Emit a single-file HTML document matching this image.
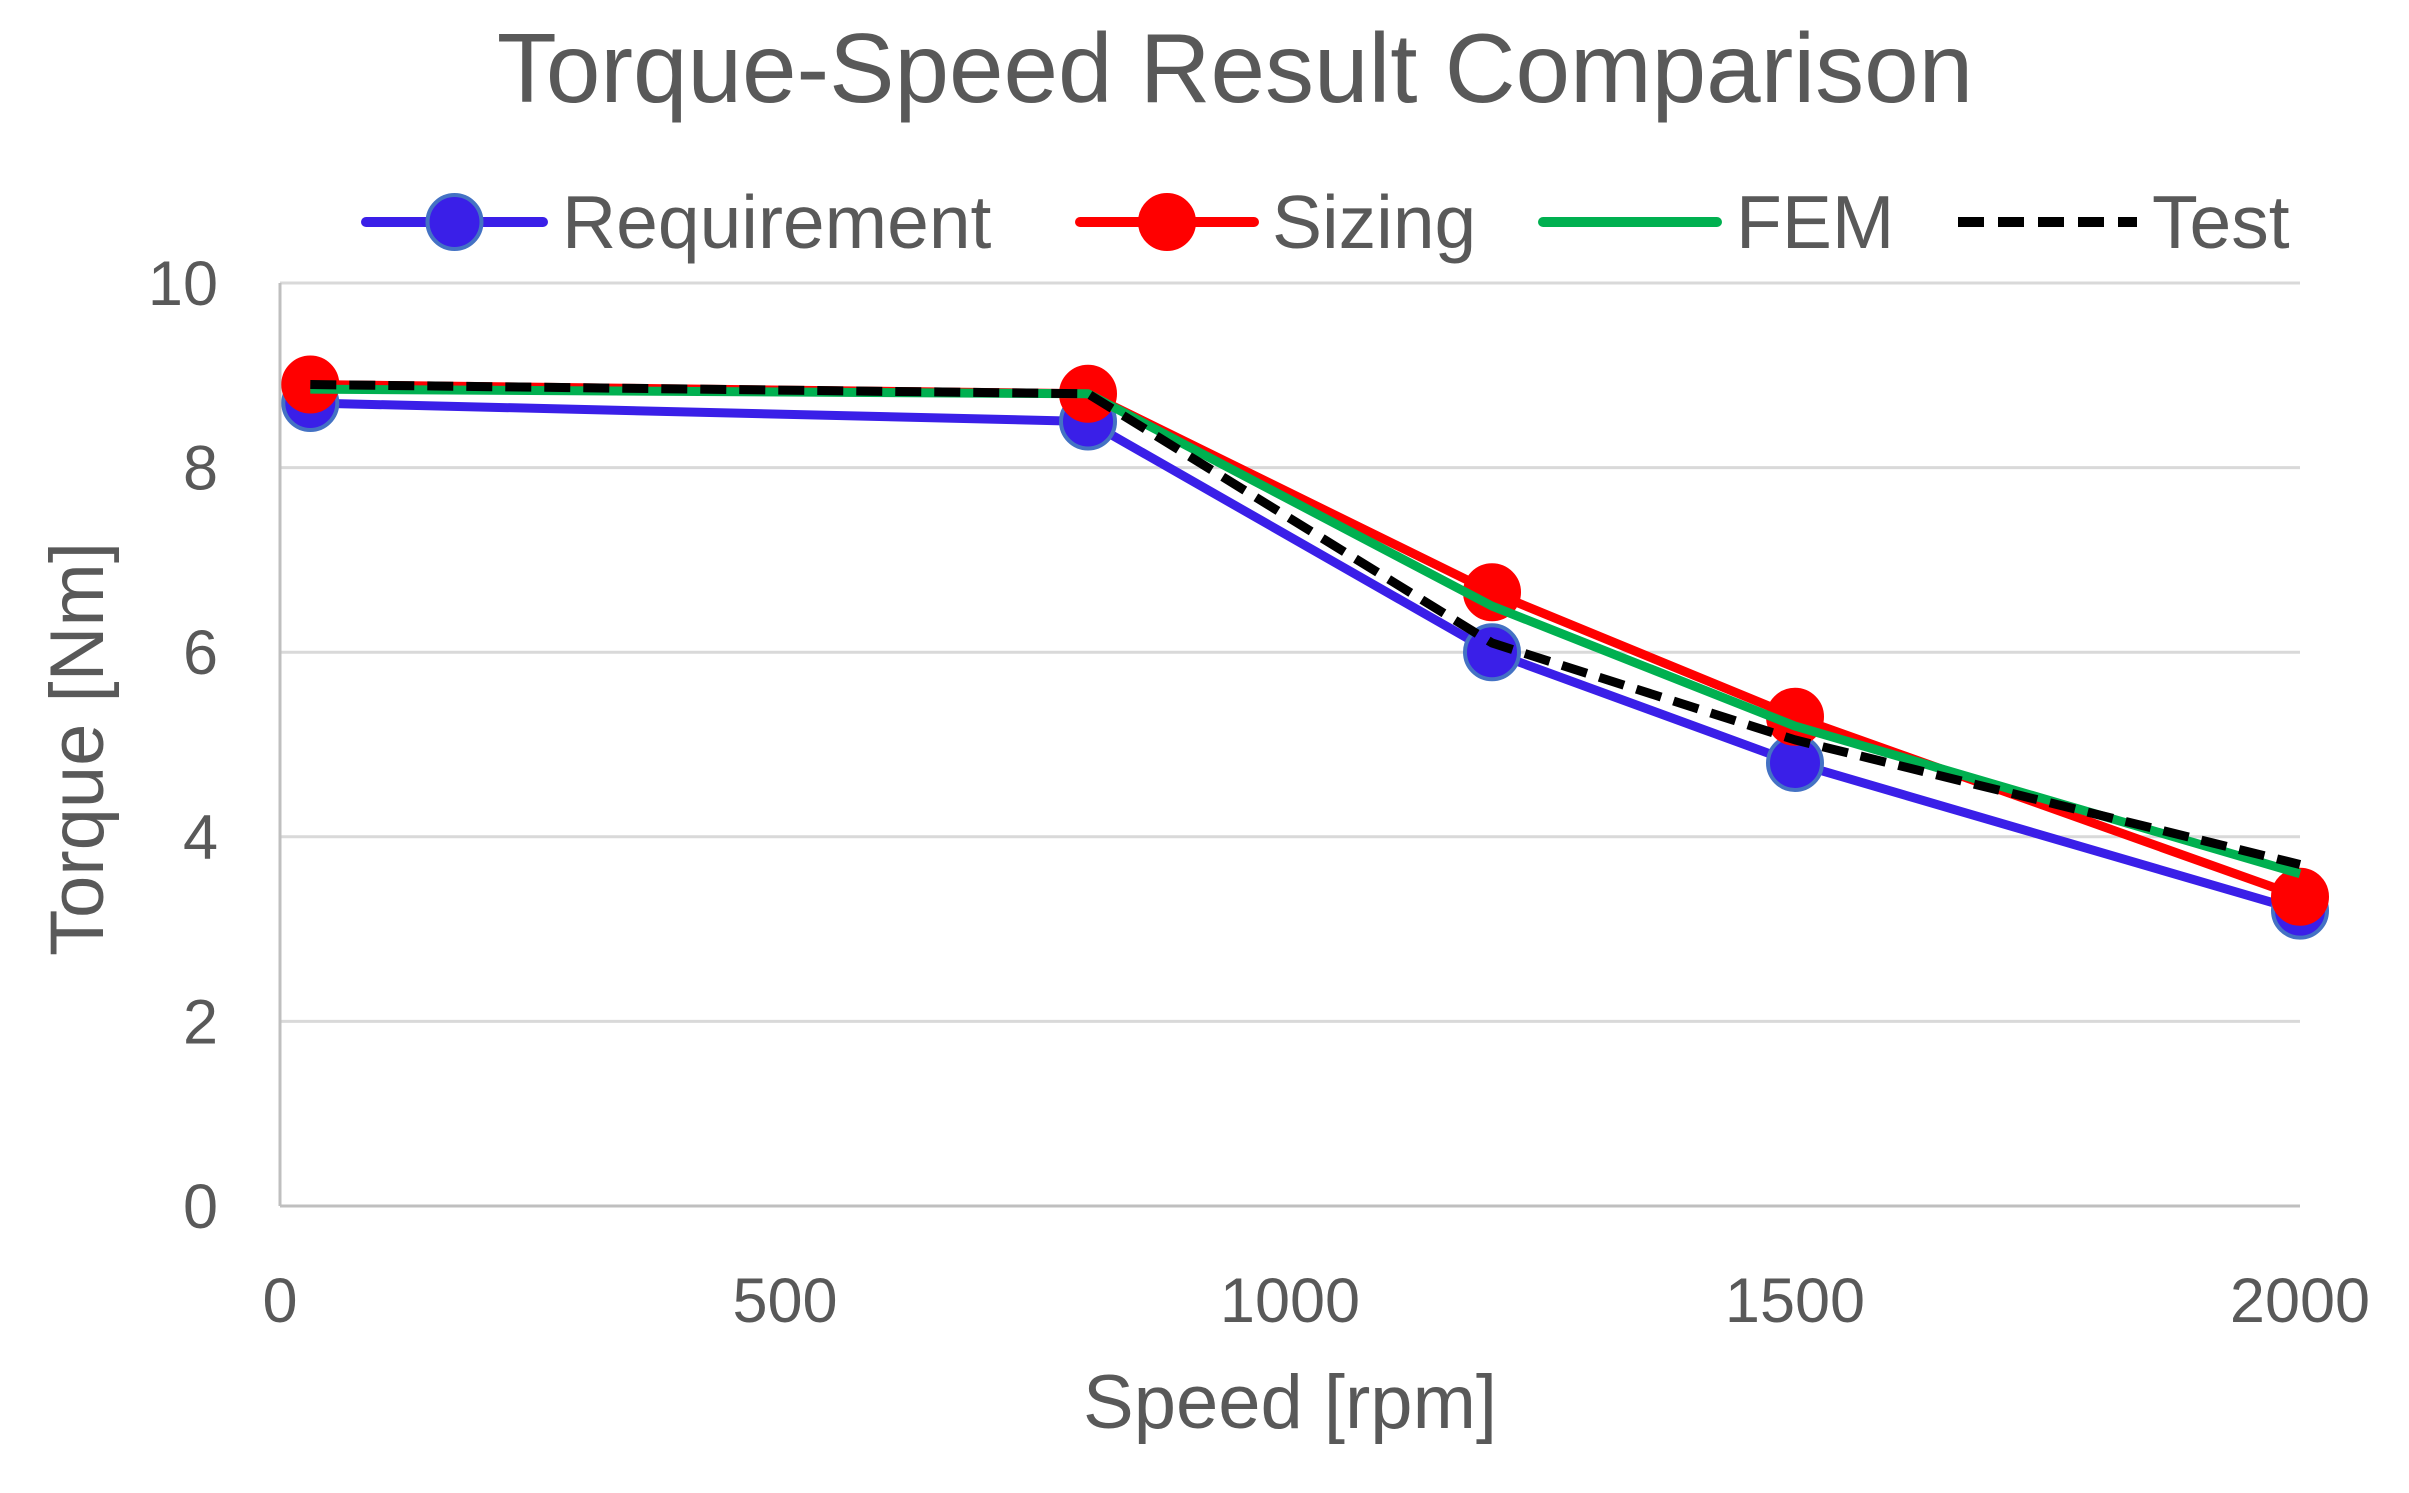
<!DOCTYPE html>
<html><head><meta charset="utf-8"><style>
body{margin:0;background:#fff}
svg text{font-family:"Liberation Sans","DejaVu Sans",sans-serif;fill:#595959}
</style></head><body>
<svg id="chart" width="2409" height="1488" xmlns="http://www.w3.org/2000/svg">
<rect width="2409" height="1488" fill="#fff"/>
<text x="1235" y="102" font-size="98" text-anchor="middle">Torque-Speed Result Comparison</text>
<g id="grid"></g><g id="axes"></g><g id="series"></g>
<g id="legend"></g>
<text x="1290" y="1428" font-size="76" text-anchor="middle">Speed [rpm]</text>
<text transform="translate(103,749) rotate(-90)" font-size="76" text-anchor="middle">Torque [Nm]</text>
</svg>
<script>
const speeds = [30, 800, 1200, 1500, 2000];
const requirement = [8.7, 8.5, 6.0, 4.8, 3.2];
const sizing = [8.9, 8.8, 6.65, 5.3, 3.35];
const fem = [8.85, 8.8, 6.5, 5.2, 3.6];
const test = [8.9, 8.8, 6.1, 5.05, 3.7];
const xTicks = [0, 500, 1000, 1500, 2000];
const yTicks = [0, 2, 4, 6, 8, 10];

const NS = "http://www.w3.org/2000/svg";
const X0 = 280, X1 = 2300, Y0 = 1206, Y1 = 283;
const xs = v => X0 + (v - 0) / 2000 * (X1 - X0);
const ys = v => Y0 - v / 10 * (Y0 - Y1);
function mk(tag, attrs, parent) {
  const e = document.createElementNS(NS, tag);
  for (const k in attrs) e.setAttribute(k, attrs[k]);
  parent.appendChild(e); return e;
}
const grid = document.getElementById('grid'), axes = document.getElementById('axes');
yTicks.forEach(t => {
  const l = mk('line', {x1: X0, x2: X1, y1: ys(t), y2: ys(t), stroke: t === 0 ? '#bfbfbf' : '#d9d9d9', 'stroke-width': 3}, grid);
  
  
  const tx = mk('text', {x: 218, y: ys(t) + 22, 'font-size': 63, 'text-anchor': 'end'}, axes);
  tx.textContent = t;
  
  
});
const yl = mk('line', {x1: X0, x2: X0, y1: Y1, y2: Y0, stroke: '#bfbfbf', 'stroke-width': 3}, axes);


xTicks.forEach(t => {
  const tx = mk('text', {x: xs(t), y: 1322, 'font-size': 63, 'text-anchor': 'middle'}, axes);
  tx.textContent = t;
  
  
});
const series = document.getElementById('series');
const defs = [
  {name: 'requirement', vals: requirement, color: '#3a1fe8', marker: true, dash: null},
  {name: 'sizing', vals: sizing, color: '#ff0000', marker: true, dash: null},
  {name: 'fem', vals: fem, color: '#00b050', marker: false, dash: null},
  {name: 'test', vals: test, color: '#000000', marker: false, dash: '26,13'}
];
defs.forEach(s => {
  const pts = s.vals.map((v, i) => xs(speeds[i]) + ',' + ys(v)).join(' ');
  const attrs = {points: pts, fill: 'none', stroke: s.color, 'stroke-width': 9, 'stroke-linejoin': 'round'};
  if (s.dash) attrs['stroke-dasharray'] = s.dash;
  const pl = mk('polyline', attrs, series);
  
  
  if (s.marker) s.vals.forEach((v, i) => {
    const c = mk('circle', {cx: xs(speeds[i]), cy: ys(v), r: 27, fill: s.color, stroke: s.name === 'requirement' ? '#4472c4' : s.color, 'stroke-width': 4}, series);
    
    
  });
});
const lg = document.getElementById('legend');
const legendItems = [
  {label: 'Requirement', color: '#3a1fe8', x1: 366, x2: 543, tx: 562, marker: true, dash: null},
  {label: 'Sizing', color: '#ff0000', x1: 1080, x2: 1254, tx: 1272, marker: true, dash: null},
  {label: 'FEM', color: '#00b050', x1: 1543, x2: 1717, tx: 1736, marker: false, dash: null},
  {label: 'Test', color: '#000000', x1: 1958, x2: 2137, tx: 2152, marker: false, dash: '26,14'}
];
legendItems.forEach(it => {
  const a = {x1: it.x1, x2: it.x2, y1: 222, y2: 222, stroke: it.color, 'stroke-width': 10, 'stroke-linecap': 'round'};
  if (it.dash) { a['stroke-dasharray'] = it.dash; a['stroke-linecap'] = 'butt'; }
  const l = mk('line', a, lg);
  
  
  if (it.marker) {
    const c = mk('circle', {cx: (it.x1 + it.x2) / 2, cy: 222, r: 27, fill: it.color, stroke: it.label === 'Requirement' ? '#4472c4' : it.color, 'stroke-width': 4}, lg);
    
    
  }
  const t = mk('text', {x: it.tx, y: 248, 'font-size': 75}, lg);
  t.textContent = it.label;
  
  
});
</script>
</body></html>
